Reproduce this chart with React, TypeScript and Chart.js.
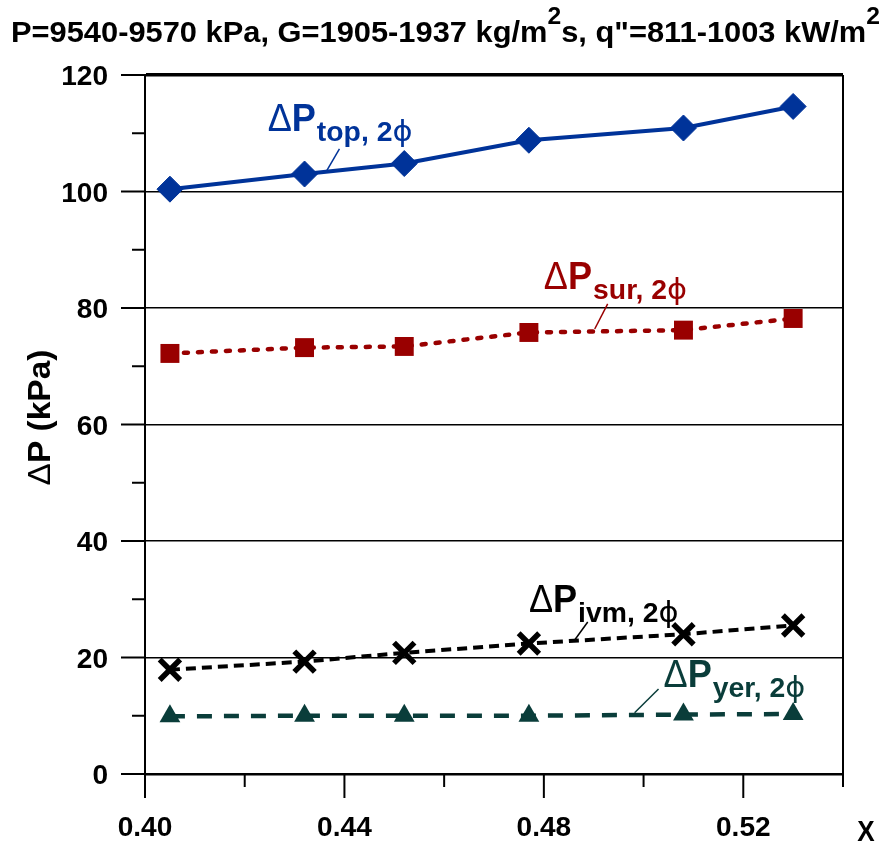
import { useEffect, useRef } from "react";
import { Chart, registerables } from "chart.js";

Chart.register(...registerables);

// ---------- data ----------
const xQuality = [0.405, 0.432, 0.452, 0.477, 0.508, 0.53];
const dpTop = [100.4, 103.0, 104.8, 108.8, 110.9, 114.6];
const dpSur = [72.2, 73.2, 73.4, 75.8, 76.2, 78.2];
const dpIvm = [17.9, 19.3, 20.8, 22.4, 24.0, 25.5];
const dpYer = [9.9, 10.0, 10.0, 10.0, 10.2, 10.3];

const yMajorTicks = [0, 20, 40, 60, 80, 100, 120];
const yMinorTicks = [10, 30, 50, 70, 90, 110];
const xMajorTicks = [0.4, 0.44, 0.48, 0.52];
const xMinorTicks = [0.42, 0.46, 0.5, 0.54];
const xTickLabels = ["0.40", "0.44", "0.48", "0.52"];
const yTickLabels = ["0", "20", "40", "60", "80", "100", "120"];

const seriesSubs = ["top", "sur", "ivm", "yer"];

// ---------- styles ----------
const BLUE = "#003399";
const RED = "#990000";
const BLACK = "#000000";
const TEAL = "#0a3d3a";
const FONT = '"Liberation Sans", Arial, sans-serif';
const PHI_FONT = '"DejaVu Sans", "Liberation Sans", sans-serif';

// label anchors (data coords): left of Δ, baseline of P; leader line from -> to
const labelAnchors = [
  { x: 0.4246, y: 110.4, lx1: 0.439, ly1: 107.3, lx2: 0.4364, ly2: 103.5, color: BLUE },
  { x: 0.48, y: 83.3, lx1: 0.4928, ly1: 80.7, lx2: 0.4902, ly2: 76.4, color: RED },
  { x: 0.477, y: 27.8, lx1: 0.4888, ly1: 26.1, lx2: 0.486, ly2: 22.8, color: BLACK },
  { x: 0.504, y: 14.9, lx1: 0.503, ly1: 14.6, lx2: 0.4982, ly2: 10.5, color: TEAL },
];

type Seg = { t: string; font: string; dy?: number };

function segsWidth(ctx: CanvasRenderingContext2D, segs: Seg[]) {
  let w = 0;
  for (const s of segs) {
    ctx.font = s.font;
    w += ctx.measureText(s.t).width;
  }
  return w;
}

function drawSegs(
  ctx: CanvasRenderingContext2D,
  segs: Seg[],
  x: number,
  y: number,
  hs: number,
  color: string
) {
  ctx.save();
  ctx.translate(x, y);
  ctx.scale(hs, 1);
  ctx.fillStyle = color;
  ctx.textBaseline = "alphabetic";
  ctx.textAlign = "left";
  let cx = 0;
  for (const s of segs) {
    ctx.font = s.font;
    ctx.fillText(s.t, cx, s.dy || 0);
    cx += ctx.measureText(s.t).width;
  }
  ctx.restore();
}

const decorPlugin = {
  id: "decor",
  afterDraw(chart: any) {
    const ctx: CanvasRenderingContext2D = chart.ctx;
    const xs = chart.scales.x;
    const ys = chart.scales.y;
    const area = chart.chartArea;
    ctx.save();
    ctx.strokeStyle = "#000";
    ctx.lineWidth = 2;
    // right border
    ctx.beginPath();
    ctx.moveTo(area.right, area.top);
    ctx.lineTo(area.right, area.bottom);
    ctx.stroke();
    // y ticks
    for (const v of yMajorTicks) {
      const py = ys.getPixelForValue(v);
      ctx.beginPath();
      ctx.moveTo(area.left - 24, py);
      ctx.lineTo(area.left, py);
      ctx.stroke();
    }
    for (const v of yMinorTicks) {
      const py = ys.getPixelForValue(v);
      ctx.beginPath();
      ctx.moveTo(area.left - 13, py);
      ctx.lineTo(area.left, py);
      ctx.stroke();
    }
    // x ticks
    for (const v of xMajorTicks) {
      const px = xs.getPixelForValue(v);
      ctx.beginPath();
      ctx.moveTo(px, area.bottom);
      ctx.lineTo(px, area.bottom + 24);
      ctx.stroke();
    }
    for (const v of xMinorTicks) {
      const px = xs.getPixelForValue(v);
      ctx.beginPath();
      ctx.moveTo(px, area.bottom);
      ctx.lineTo(px, area.bottom + 13);
      ctx.stroke();
    }

    const hs = 1.04;
    // y tick labels
    yMajorTicks.forEach((v, i) => {
      const py = ys.getPixelForValue(v);
      const segs = [{ t: yTickLabels[i], font: `bold 27px ${FONT}` }];
      const w = segsWidth(ctx, segs) * hs;
      drawSegs(ctx, segs, area.left - 37 - w, py + 10, hs, "#000");
    });
    // x tick labels
    xMajorTicks.forEach((v, i) => {
      const px = xs.getPixelForValue(v);
      const segs = [{ t: xTickLabels[i], font: `bold 27px ${FONT}` }];
      const w = segsWidth(ctx, segs) * hs;
      drawSegs(ctx, segs, px - w / 2, area.bottom + 62, hs, "#000");
    });
    // x axis title
    {
      const segs = [{ t: "X", font: `bold 29px ${FONT}` }];
      const w = segsWidth(ctx, segs);
      drawSegs(ctx, segs, 867 - w / 2, 841, 0.9, "#000");
    }
    // y axis title (rotated)
    {
      const segs = [
        { t: "\u0394", font: `32px ${FONT}` },
        { t: "P (kPa)", font: `bold 32px ${FONT}` },
      ];
      const w = segsWidth(ctx, segs);
      const target = 136;
      ctx.save();
      ctx.translate(50, (area.top + area.bottom) / 2 - 7);
      ctx.rotate(-Math.PI / 2);
      drawSegs(ctx, segs, -target / 2, 0, target / w, "#000");
      ctx.restore();
    }
    // chart title
    {
      const segs: Seg[] = [
        { t: "P=9540-9570 kPa, G=1905-1937 kg/m", font: `bold 30px ${FONT}` },
        { t: "2", font: `bold 24px ${FONT}`, dy: -18 },
        { t: "s, q\"=811-1003 kW/m", font: `bold 30px ${FONT}` },
        { t: "2", font: `bold 24px ${FONT}`, dy: -18 },
      ];
      const w = segsWidth(ctx, segs);
      const target = 869;
      drawSegs(ctx, segs, 11, 42, target / w, "#000");
    }
    // series labels
    labelAnchors.forEach((a, i) => {
      const px = xs.getPixelForValue(a.x);
      const py = ys.getPixelForValue(a.y);
      const big: Seg[] = [
        { t: "\u0394", font: `38px ${FONT}` },
        { t: "P", font: `bold 38px ${FONT}` },
      ];
      drawSegs(ctx, big, px, py, 0.95, a.color);
      const bw = segsWidth(ctx, big) * 0.95;
      const sub: Seg[] = [
        { t: seriesSubs[i] + ", 2", font: `bold 27px ${FONT}` },
        { t: "\u03d5", font: `29px ${PHI_FONT}` },
      ];
      drawSegs(ctx, sub, px + bw + 1, py + 10, 1.05, a.color);
      ctx.strokeStyle = a.color;
      ctx.lineWidth = 1.5;
      ctx.beginPath();
      ctx.moveTo(xs.getPixelForValue(a.lx1), ys.getPixelForValue(a.ly1));
      ctx.lineTo(xs.getPixelForValue(a.lx2), ys.getPixelForValue(a.ly2));
      ctx.stroke();
    });
    ctx.restore();
  },
};

function pts(ys: number[]) {
  return xQuality.map((x, i) => ({ x, y: ys[i] }));
}

export default function App() {
  const ref = useRef<HTMLCanvasElement | null>(null);
  useEffect(() => {
    document.body.style.margin = "0";
    const canvas = ref.current;
    if (!canvas) return;
    const chart = new Chart(canvas, {
      type: "line",
      data: {
        datasets: [
          {
            data: pts(dpTop),
            borderColor: BLUE,
            backgroundColor: BLUE,
            borderWidth: 4,
            pointStyle: "rectRot",
            pointRadius: 13,
            pointBorderWidth: 1,
            pointBorderColor: BLUE,
            pointBackgroundColor: BLUE,
            tension: 0,
            clip: false,
          } as any,
          {
            data: pts(dpSur),
            borderColor: RED,
            backgroundColor: RED,
            borderWidth: 4.5,
            borderDash: [4, 10],
            borderCapStyle: "round",
            pointStyle: "rect",
            pointRadius: 13.4,
            pointBorderWidth: 0,
            pointBackgroundColor: RED,
            tension: 0,
            clip: false,
          } as any,
          {
            data: pts(dpIvm),
            borderColor: BLACK,
            backgroundColor: BLACK,
            borderWidth: 4,
            borderDash: [10, 6],
            pointStyle: "crossRot",
            pointRadius: 14.5,
            pointBorderWidth: 5.5,
            pointBorderColor: BLACK,
            tension: 0,
            clip: false,
          } as any,
          {
            data: pts(dpYer),
            borderColor: TEAL,
            backgroundColor: TEAL,
            borderWidth: 4.5,
            borderDash: [15, 12],
            pointStyle: "triangle",
            pointRadius: 12,
            pointBorderWidth: 0,
            pointBackgroundColor: TEAL,
            tension: 0,
            clip: false,
          } as any,
        ],
      },
      options: {
        responsive: false,
        animation: false,
        devicePixelRatio: 1,
        layout: { padding: { top: 75, right: 42, left: 0, bottom: 0 } },
        plugins: {
          legend: { display: false },
          tooltip: { enabled: false },
          title: { display: false },
        },
        scales: {
          x: {
            type: "linear",
            min: 0.4,
            max: 0.54,
            ticks: { display: false, stepSize: 0.02 },
            grid: { display: false, drawTicks: false },
            border: { display: true, color: "#000", width: 2.5 },
            afterFit: (s: any) => {
              s.height = 846 - 774;
            },
          },
          y: {
            min: 0,
            max: 120,
            ticks: { display: false, stepSize: 20 },
            grid: {
              color: "#000",
              lineWidth: (c: any) => (c.tick && c.tick.value === 120 ? 3.5 : 1.5),
              drawTicks: false,
            },
            border: { display: true, color: "#000", width: 2 },
            afterFit: (s: any) => {
              s.width = 145;
            },
          },
        },
      } as any,
      plugins: [decorPlugin],
    });
    return () => chart.destroy();
  }, []);
  return (
    <div style={{ width: 885, height: 846 }}>
      <canvas ref={ref} width={885} height={846} style={{ display: "block" }} />
    </div>
  );
}
